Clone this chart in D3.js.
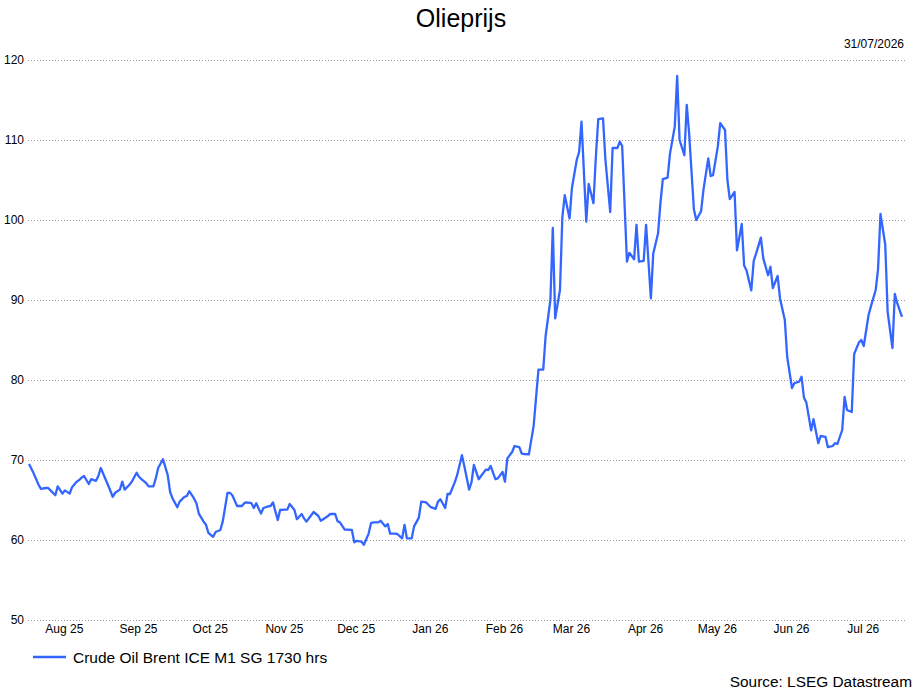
<!DOCTYPE html>
<html>
<head>
<meta charset="utf-8">
<script src="https://cdn.jsdelivr.net/npm/d3@7"></script>
<style>
  html, body { margin: 0; padding: 0; background: #fff; }
  svg { display: block; font-family: "Liberation Sans", Arial, sans-serif; }
</style>
</head>
<body>
<svg id="chart" width="917" height="690"></svg>
<script>
const title = "Olieprijs";
const dateLabel = "31/07/2026";
const seriesName = "Crude Oil Brent ICE M1 SG 1730 hrs";
const sourceText = "Source: LSEG Datastream";
const yTicks = [50, 60, 70, 80, 90, 100, 110, 120];
const monthTicks = ["2025-08-15","2025-09-15","2025-10-15","2025-11-15","2025-12-15","2026-01-15",
                    "2026-02-15","2026-03-15","2026-04-15","2026-05-15","2026-06-15","2026-07-15"];

const dates = [
"2025-07-31","2025-08-02","2025-08-04","2025-08-05","2025-08-07","2025-08-08","2025-08-09","2025-08-11","2025-08-12","2025-08-14",
"2025-08-15","2025-08-17","2025-08-18","2025-08-20","2025-08-21","2025-08-22","2025-08-23","2025-08-25","2025-08-26","2025-08-28",
"2025-08-29","2025-08-30","2025-09-01","2025-09-02","2025-09-04","2025-09-05","2025-09-07","2025-09-08","2025-09-09","2025-09-11",
"2025-09-12","2025-09-14","2025-09-15","2025-09-16","2025-09-18","2025-09-19","2025-09-21","2025-09-22","2025-09-23","2025-09-25",
"2025-09-27","2025-09-28","2025-09-29","2025-10-01","2025-10-02","2025-10-04","2025-10-05","2025-10-06","2025-10-08","2025-10-09",
"2025-10-10","2025-10-12","2025-10-13","2025-10-14","2025-10-16","2025-10-17","2025-10-19","2025-10-20","2025-10-22","2025-10-23",
"2025-10-24","2025-10-26","2025-10-28","2025-10-29","2025-10-30","2025-11-01","2025-11-02","2025-11-03","2025-11-05","2025-11-06",
"2025-11-08","2025-11-09","2025-11-10","2025-11-12","2025-11-13","2025-11-15","2025-11-16","2025-11-17","2025-11-19","2025-11-20",
"2025-11-22","2025-11-23","2025-11-24","2025-11-26","2025-11-27","2025-11-29","2025-11-30","2025-12-01","2025-12-03","2025-12-04",
"2025-12-06","2025-12-07","2025-12-08","2025-12-10","2025-12-11","2025-12-13","2025-12-14","2025-12-15","2025-12-17","2025-12-18",
"2025-12-20","2025-12-21","2025-12-22","2025-12-24","2025-12-25","2025-12-27","2025-12-28","2025-12-29","2025-12-31","2026-01-01",
"2026-01-03","2026-01-04","2026-01-05","2026-01-07","2026-01-08","2026-01-10","2026-01-11","2026-01-13","2026-01-14","2026-01-15",
"2026-01-17","2026-01-18","2026-01-19","2026-01-21","2026-01-22","2026-01-23","2026-01-25","2026-01-26","2026-01-28","2026-01-29",
"2026-01-31","2026-02-01","2026-02-02","2026-02-04","2026-02-05","2026-02-07","2026-02-08","2026-02-09","2026-02-11","2026-02-12",
"2026-02-14","2026-02-15","2026-02-16","2026-02-18","2026-02-19","2026-02-21","2026-02-22","2026-02-23","2026-02-25","2026-02-27",
"2026-03-01","2026-03-03","2026-03-04","2026-03-06","2026-03-07","2026-03-08","2026-03-10","2026-03-11","2026-03-12","2026-03-14",
"2026-03-15","2026-03-17","2026-03-18","2026-03-19","2026-03-21","2026-03-22","2026-03-24","2026-03-25","2026-03-26","2026-03-28",
"2026-03-29","2026-03-31","2026-04-01","2026-04-03","2026-04-04","2026-04-05","2026-04-07","2026-04-08","2026-04-10","2026-04-11",
"2026-04-12","2026-04-14","2026-04-15","2026-04-17","2026-04-18","2026-04-20","2026-04-21","2026-04-22","2026-04-24","2026-04-25",
"2026-04-27","2026-04-28","2026-04-29","2026-05-01","2026-05-02","2026-05-03","2026-05-05","2026-05-06","2026-05-08","2026-05-09",
"2026-05-11","2026-05-12","2026-05-13","2026-05-15","2026-05-16","2026-05-18","2026-05-19","2026-05-20","2026-05-22","2026-05-23",
"2026-05-25","2026-05-26","2026-05-27","2026-05-29","2026-05-30","2026-05-31","2026-06-02","2026-06-03","2026-06-05","2026-06-06",
"2026-06-07","2026-06-09","2026-06-10","2026-06-12","2026-06-13","2026-06-15","2026-06-16","2026-06-18","2026-06-19","2026-06-20",
"2026-06-21","2026-06-23","2026-06-24","2026-06-26","2026-06-27","2026-06-29","2026-06-30","2026-07-02","2026-07-03","2026-07-04",
"2026-07-06","2026-07-07","2026-07-08","2026-07-10","2026-07-11","2026-07-13","2026-07-14","2026-07-15","2026-07-17","2026-07-18",
"2026-07-20","2026-07-21","2026-07-22","2026-07-24","2026-07-25","2026-07-27","2026-07-28","2026-07-29","2026-07-31"
];

const prices = [
69.5,68.3,66.9,66.4,66.5,66.5,66.2,65.6,66.7,65.8,
66.2,65.8,66.6,67.3,67.5,67.8,68.0,67.0,67.6,67.4,
68.0,69.0,67.6,66.9,65.4,65.9,66.3,67.3,66.3,66.9,
67.3,68.4,67.9,67.6,67.1,66.7,66.7,67.7,69.0,70.1,
68.1,66.0,65.2,64.1,64.8,65.4,65.5,66.1,65.2,64.6,
63.3,62.3,61.9,60.9,60.4,61.0,61.25,62.3,65.9,65.9,
65.6,64.25,64.25,64.6,64.7,64.6,64.0,64.6,63.3,64.0,
64.2,64.25,64.7,62.5,63.75,63.8,63.8,64.5,63.75,62.6,
63.25,62.7,62.3,63.1,63.5,63.0,62.4,62.6,63.0,63.25,
63.25,62.35,62.2,61.3,61.3,61.25,59.7,59.9,59.8,59.4,
60.8,62.1,62.2,62.2,62.4,61.7,62.0,60.8,60.8,60.75,
60.2,61.9,60.2,60.2,61.7,62.8,64.8,64.7,64.4,64.1,
63.9,64.8,65.1,64.0,65.75,65.75,67.2,68.1,70.6,69.25,
66.3,67.2,69.4,67.6,68.0,68.8,68.75,69.25,67.6,67.7,
68.5,67.3,70.2,71.0,71.75,71.6,70.8,70.75,70.7,74.3,
81.3,81.3,85.5,90.0,99.0,87.7,91.25,100.4,103.1,100.2,
104.0,107.5,108.5,112.3,99.8,104.5,102.1,107.9,112.6,112.7,
107.5,101.0,109.0,109.0,109.8,109.25,94.8,95.9,95.1,99.4,
94.8,94.9,99.4,90.2,95.8,98.3,102.1,105.1,105.3,108.3,
111.7,118.0,110.0,108.1,114.4,110.8,101.3,100.0,101.1,103.8,
107.7,105.5,105.6,109.2,112.1,111.25,105.0,102.6,103.5,96.2,
99.5,94.3,93.7,91.2,94.9,95.8,97.8,95.2,93.1,94.15,
91.5,93.0,90.2,87.5,82.9,79.0,79.6,79.8,80.4,77.8,
77.2,73.7,75.1,72.1,73.0,72.9,71.6,71.75,72.1,72.0,
73.75,77.9,76.25,76.0,83.25,84.7,85.0,84.25,88.1,89.2,
91.25,93.9,100.75,96.9,88.5,84.0,90.75,89.6,87.9
];

const parse = d3.timeParse("%Y-%m-%d");
const data = dates.map((d, i) => ({ date: parse(d), value: prices[i] }));

const svg = d3.select("#chart");
const lineColor = "#3366ff";

const x = d3.scaleTime()
  .domain([parse("2025-07-31"), parse("2026-07-31")])
  .range([29, 902]);
const y = d3.scaleLinear().domain([50, 120]).range([620, 60]);

// Title
svg.append("text").attr("x", 461).attr("y", 27).attr("text-anchor", "middle")
  .attr("font-size", 25).attr("fill", "#000").text(title);
svg.append("text").attr("x", 904).attr("y", 48).attr("text-anchor", "end")
  .attr("font-size", 12).attr("fill", "#000").text(dateLabel);

// Grid
svg.append("g").selectAll("line").data(yTicks).join("line")
  .attr("x1", 28).attr("x2", 906)
  .attr("y1", d => y(d) + 0.5).attr("y2", d => y(d) + 0.5)
  .attr("stroke", "#999").attr("stroke-width", 1).attr("stroke-dasharray", "1,2");

// Y axis labels
const yAxis = d3.axisLeft(y).tickValues(yTicks).tickSize(0).tickPadding(0);
const gy = svg.append("g").attr("transform", "translate(24,0)").call(yAxis);
gy.select(".domain").remove();
gy.selectAll("text").attr("font-size", 12).attr("fill", "#000")
  .attr("font-family", "Liberation Sans, Arial, sans-serif");

// X axis labels
const xAxis = d3.axisBottom(x).tickValues(monthTicks.map(parse))
  .tickFormat(d3.timeFormat("%b %y")).tickSize(0).tickPadding(0);
const gx = svg.append("g").attr("transform", "translate(-1,624)").call(xAxis);
gx.select(".domain").remove();
gx.selectAll("text").attr("font-size", 12).attr("fill", "#000")
  .attr("font-family", "Liberation Sans, Arial, sans-serif");

// Line
const line = d3.line().x(d => x(d.date)).y(d => y(d.value));
svg.append("path").datum(data).attr("d", line)
  .attr("fill", "none").attr("stroke", lineColor).attr("stroke-width", 2.3)
  .attr("stroke-linejoin", "round");

// Legend
svg.append("line").attr("x1", 33).attr("x2", 66).attr("y1", 657).attr("y2", 657)
  .attr("stroke", lineColor).attr("stroke-width", 2.5);
svg.append("text").attr("x", 73).attr("y", 662.5).attr("font-size", 15.5).attr("fill", "#000")
  .text(seriesName);

// Source
svg.append("text").attr("x", 912).attr("y", 686.5).attr("text-anchor", "end")
  .attr("font-size", 15.4).attr("fill", "#000").text(sourceText);
</script>
</body>
</html>
